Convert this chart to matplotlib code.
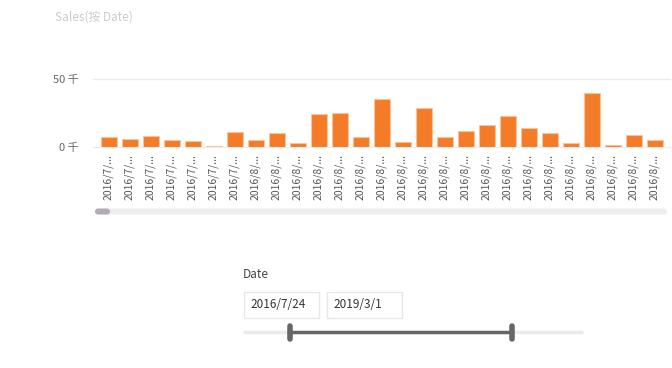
import matplotlib
matplotlib.use("Agg")
import matplotlib.pyplot as plt
from matplotlib.patches import FancyBboxPatch, Rectangle

plt.rcParams['font.family'] = ['Noto Sans CJK SC', 'DejaVu Sans']

# data (Sales in thousands)
dates = ["2016/7/..."] * 7 + ["2016/8/..."] * 20
sales = [7.1, 5.7, 7.9, 5.4, 4.2, 1.0, 10.8, 4.9, 10.3, 2.7,
         24.3, 25.0, 7.1, 35.3, 3.7, 28.4, 7.6, 11.5, 16.2, 22.8,
         13.7, 10.3, 2.9, 39.9, 1.7, 8.8, 5.1]
yticks = [0, 50]
ytick_labels = ["0 千", "50 千"]
range_start = "2016/7/24"
range_end = "2019/3/1"

W, H = 672, 368
fig = plt.figure(figsize=(W / 100, H / 100), dpi=100)

# overlay axes in pixel coordinates for the decorations
ov = fig.add_axes([0, 0, 1, 1], zorder=0)
ov.set_xlim(0, W)
ov.set_ylim(H, 0)
ov.axis('off')

# main bar chart: baseline at y=147px, 50k at y=79px
left, right = 93, 670
ax = fig.add_axes([left / W, (H - 147) / H, (right - left) / W, 68 / H], zorder=1)
ax.patch.set_alpha(0)
x = list(range(len(sales)))
ax.bar(x, sales, width=0.76, color='#f47b27', edgecolor='#f9c49c', linewidth=0.8, zorder=3)
ax.set_xlim(-0.75, 26.73)
ax.set_ylim(0, 50)
for s in ax.spines.values():
    s.set_visible(False)
for v in yticks:
    ax.axhline(v, color='#ececec', lw=1, zorder=1, clip_on=False)
ax.set_yticks(yticks)
ax.set_yticklabels(ytick_labels, fontsize=8, color='#666666')
ax.tick_params(axis='y', length=0, pad=10)
ax.set_xticks(x)
ax.set_xticklabels(dates, rotation=90, fontsize=7.5, color='#555555', va='top')
ax.tick_params(axis='x', length=0, pad=5)

# title
ov.text(55, 17, "Sales(按 Date)", fontsize=8.5, color='#c8cccf', va='center', ha='left')

# horizontal scrollbar
ov.add_patch(FancyBboxPatch((96, 208.5), 571, 6, boxstyle="round,pad=0,rounding_size=3",
                            fc='#eeeeee', ec='none'))
ov.add_patch(FancyBboxPatch((95, 208.5), 15, 6, boxstyle="round,pad=0,rounding_size=3",
                            fc='#b5a9b7', ec='none'))

# date slicer
ov.text(243, 275, "Date", fontsize=8.5, color='#444444', va='center', ha='left')
ov.add_patch(Rectangle((243.5, 291.5), 75, 26, fc='white', ec='#e8e8e8', lw=1))
ov.add_patch(Rectangle((326.5, 291.5), 75, 26, fc='white', ec='#e8e8e8', lw=1))
ov.text(250, 304.5, range_start, fontsize=8.5, color='#333333', va='center', ha='left')
ov.text(333, 304.5, range_end, fontsize=8.5, color='#333333', va='center', ha='left')
ov.plot([243, 583], [332, 332], color='#ebebeb', lw=2.5, solid_capstyle='butt')
ov.plot([290, 512], [332, 332], color='#666666', lw=2.5, solid_capstyle='butt')
for hx in (290, 512):
    ov.plot([hx, hx], [326, 339], color='#666666', lw=4, solid_capstyle='round')

fig.savefig("out.png", dpi=100)
